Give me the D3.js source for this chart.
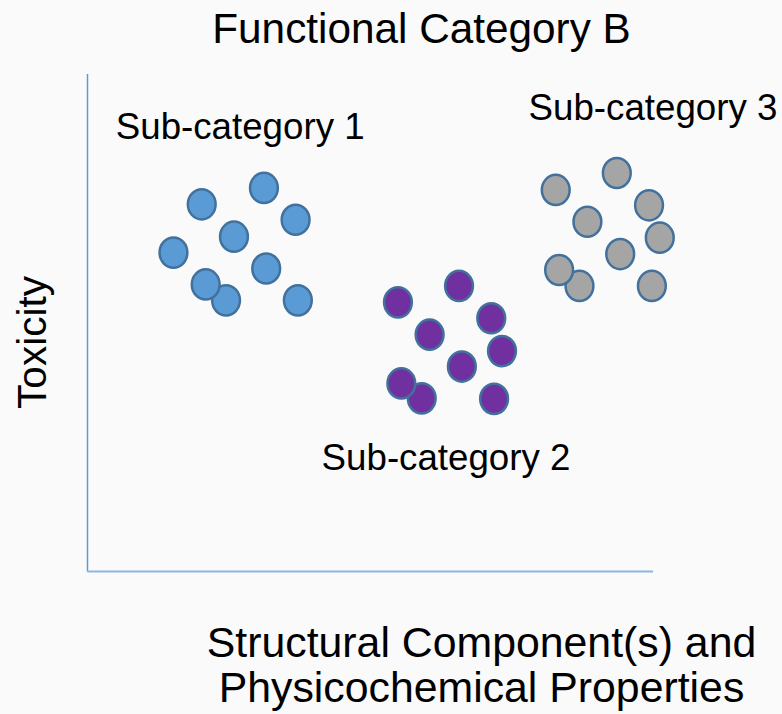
<!DOCTYPE html>
<html lang="en">
<head>
  <meta charset="UTF-8">
  <title>Functional Category B</title>
  <style>
    body { margin: 0; background: #fafafa; }
    text { font-family: "Liberation Sans", Arial, sans-serif; fill: #000; }
  </style>
</head>
<body>
  <div id="chart"></div>
  <script src="https://d3js.org/d3.v7.min.js"></script>
  <script>
    // data, in chart units (0-100 on both axes)
    var groupNames = ['Sub-category 1', 'Sub-category 2', 'Sub-category 3']
    var group1X = [20.2, 31.2, 36.8, 25.9, 15.2, 31.6, 24.5, 20.9, 37.2]
    var group1Y = [73.8, 77.1, 70.7, 67.3, 64.1, 60.9, 54.5, 57.7, 54.5]
    var group2X = [54.9, 65.7, 71.4, 60.5, 73.3, 66.2, 59.1, 55.5, 71.9]
    var group2Y = [54.1, 57.4, 50.9, 47.6, 44.3, 41.2, 34.8, 37.8, 34.7]
    var group3X = [82.8, 93.6, 99.3, 88.4, 101.2, 94.2, 87.0, 83.4, 99.8]
    var group3Y = [76.7, 80.1, 73.6, 70.3, 67.1, 63.8, 57.4, 60.6, 57.4]
    // where each group label sits (chart units)
    var labelX = [27.0, 63.4, 100.0]
    var labelY = [87.0, 20.4, 90.7]
    var colors = ['#5b9bd5', '#7030a0', '#a5a5a5']

    var width = 782
    var height = 714
    var x = d3.scaleLinear().domain([0, 100]).range([87.5, 653])
    var y = d3.scaleLinear().domain([0, 100]).range([571.5, 74])

    var groups = [[group1X, group1Y], [group2X, group2Y], [group3X, group3Y]].map(function(g, i) {
      return {
        name: groupNames[i],
        color: colors[i],
        points: g[0].map(function(v, j) { return {x: v, y: g[1][j]} })
      }
    })

    var svg = d3.select('#chart').append('svg')
      .attr('width', width)
      .attr('height', height)

    // axes: just two plain lines
    svg.append('line')
      .attr('x1', x(0)).attr('x2', x(0))
      .attr('y1', y(100)).attr('y2', y(0))
      .attr('stroke', '#5b9bd5').attr('stroke-width', 1.5)
    svg.append('line')
      .attr('x1', x(0)).attr('x2', x(100))
      .attr('y1', y(0)).attr('y2', y(0))
      .attr('stroke', '#8db6e0').attr('stroke-width', 2)

    // 8th point of each group is drawn over the 7th
    svg.append('g').selectAll('g')
      .data(groups)
      .enter().append('g')
      .attr('fill', function(d) { return d.color })
      .selectAll('ellipse')
      .data(function(d) { return d.points })
      .enter().append('ellipse')
      .attr('cx', function(d) { return x(d.x) })
      .attr('cy', function(d) { return y(d.y) })
      .attr('rx', 13.9)
      .attr('ry', 15.1)
      .attr('stroke', '#41719c')
      .attr('stroke-width', 2.5)

    svg.append('g').selectAll('text')
      .data(groups)
      .enter().append('text')
      .attr('x', function(d, i) { return x(labelX[i]) })
      .attr('y', function(d, i) { return y(labelY[i]) })
      .attr('text-anchor', 'middle')
      .attr('font-size', 36.7)
      .text(function(d) { return d.name })

    svg.append('text')
      .attr('x', 421.5)
      .attr('y', 43)
      .attr('text-anchor', 'middle')
      .attr('font-size', 42.3)
      .text('Functional Category B')

    svg.append('text')
      .attr('transform', 'translate(46,342.5) rotate(-90)')
      .attr('text-anchor', 'middle')
      .attr('font-size', 40.5)
      .text('Toxicity')

    var xTitle = svg.append('text')
      .attr('text-anchor', 'middle')
      .attr('font-size', 42.8)
    xTitle.append('tspan').attr('x', 481.5).attr('y', 657).text('Structural Component(s) and')
    xTitle.append('tspan').attr('x', 481.5).attr('y', 702).text('Physicochemical Properties')
  </script>
</body>
</html>
